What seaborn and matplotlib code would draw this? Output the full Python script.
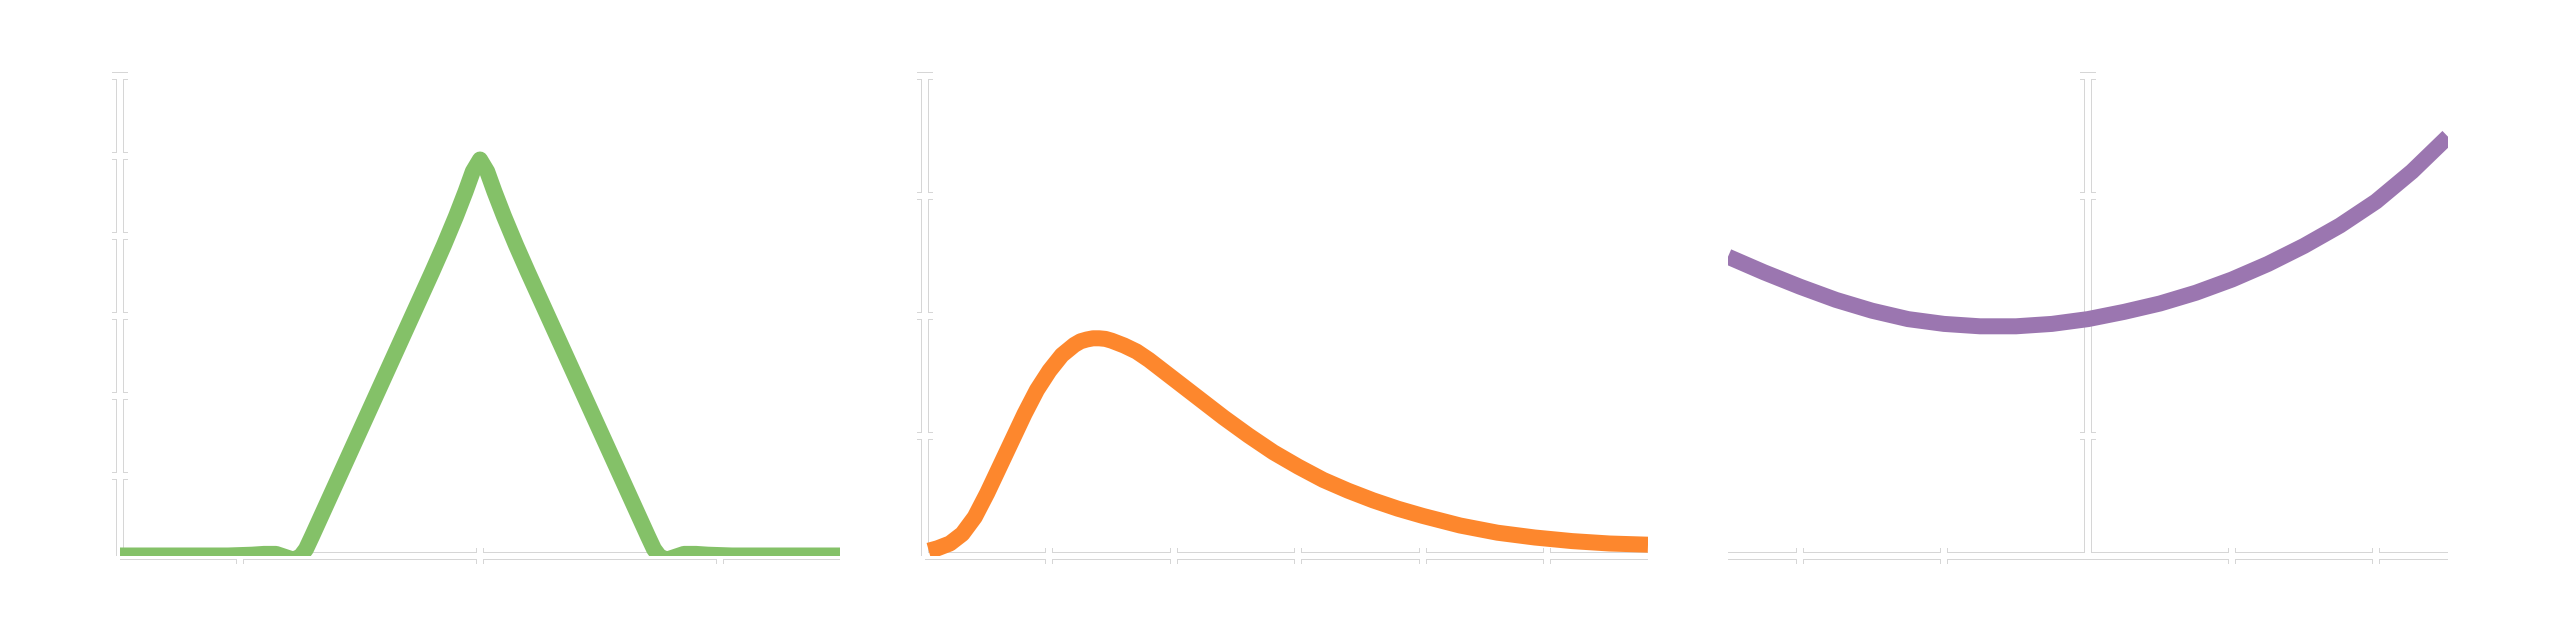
import numpy as np
import matplotlib
matplotlib.use("Agg")
import matplotlib.pyplot as plt
import seaborn as sns
import pandas as pd

sns.set_theme(style="white")

# ---------------- data ----------------
tri_x = [-3.0, -2.5, -2.1, -1.9, -1.8, -1.7, -1.62, -1.56, -1.5, -1.45, -1.4, -1.3, -1.2, -1.1,
         -1.0, -0.9, -0.8, -0.7, -0.6, -0.5, -0.4, -0.3, -0.2, -0.12, -0.06, 0.0,
         0.06, 0.12, 0.2, 0.3, 0.4, 0.5, 0.6, 0.7, 0.8, 0.9, 1.0,
         1.1, 1.2, 1.3, 1.4, 1.45, 1.5, 1.56, 1.62, 1.7, 1.8, 1.9, 2.1, 2.5, 3.0]
tri_y = [0.0, 0.0, 0.0, 0.01, 0.02, 0.02, -0.02, -0.05, -0.02, 0.08, 0.24, 0.57, 0.9, 1.23,
         1.56, 1.89, 2.22, 2.55, 2.88, 3.21, 3.54, 3.88, 4.24, 4.55, 4.8, 4.95,
         4.8, 4.55, 4.24, 3.88, 3.54, 3.21, 2.88, 2.55, 2.22, 1.89, 1.56,
         1.23, 0.9, 0.57, 0.24, 0.08, -0.02, -0.05, -0.02, 0.02, 0.02, 0.01, 0.0, 0.0, 0.0]

skew_x = [0.03, 0.1, 0.2, 0.3, 0.4, 0.5, 0.6, 0.7, 0.8, 0.9, 1.0, 1.1, 1.2, 1.25, 1.3, 1.35,
          1.4, 1.45, 1.5, 1.6, 1.7, 1.8, 1.9, 2.0, 2.2, 2.4, 2.6, 2.8, 3.0, 3.2, 3.4, 3.6,
          3.8, 4.0, 4.3, 4.6, 4.9, 5.2, 5.5, 5.81]
skew_y = [0.04, 0.06, 0.1, 0.18, 0.32, 0.52, 0.74, 0.96, 1.18, 1.38, 1.54, 1.67, 1.755, 1.785,
          1.80, 1.81, 1.81, 1.805, 1.79, 1.75, 1.7, 1.63, 1.55, 1.47, 1.31, 1.15, 1.0, 0.86,
          0.74, 0.63, 0.54, 0.46, 0.39, 0.33, 0.25, 0.19, 0.15, 0.12, 0.1, 0.09]

curve_x = [-2.5, -2.25, -2.0, -1.75, -1.5, -1.25, -1.0, -0.75, -0.5, -0.25, 0.0, 0.25, 0.5,
           0.75, 1.0, 1.25, 1.5, 1.75, 2.0, 2.25, 2.5]
curve_y = [2.49, 2.36, 2.24, 2.13, 2.04, 1.97, 1.93, 1.91, 1.91, 1.93, 1.97, 2.03, 2.1,
           2.19, 2.3, 2.43, 2.58, 2.75, 2.95, 3.2, 3.49]

GREEN = "#84c168"
ORANGE = "#fd872d"
PURPLE = "#9b76b0"
GREY = "#d6d6d6"

DPI = 100
W, H = 2560, 640
fig = plt.figure(figsize=(W / DPI, H / DPI), dpi=DPI)
fig.patch.set_facecolor("white")


def pt(p):
    return p * 72.0 / DPI


panels = [
    dict(x0=120, x1=840, x=tri_x, y=tri_y, color=GREEN, xlim=(-3, 3), ylim=(0, 6),
         xticks=[-2, 0, 2], yticks=[1, 2, 3, 4, 5, 6], spine_at=None),
    dict(x0=925, x1=1648, x=skew_x, y=skew_y, color=ORANGE, xlim=(0, 5.81), ylim=(0, 4),
         xticks=[1, 2, 3, 4, 5], yticks=[1, 2, 3, 4], spine_at=None),
    dict(x0=1728, x1=2448, x=curve_x, y=curve_y, color=PURPLE, xlim=(-2.5, 2.5), ylim=(0, 4),
         xticks=[-2, -1, 1, 2], yticks=[1, 2, 3, 4], spine_at=0),
]

y_top, y_bot = 75.5, 555.5
for p in panels:
    rect = [p["x0"] / W, (H - y_bot) / H, (p["x1"] - p["x0"]) / W, (y_bot - y_top) / H]
    for layer, (col, lw) in enumerate([(GREY, 8), ("white", 6)]):
        ax = fig.add_axes(rect, label=f"{p['x0']}-{layer}")
        ax.set_facecolor("white" if layer == 0 else "none")
        ax.set_xlim(*p["xlim"])
        ax.set_ylim(*p["ylim"])
        ax.set_xticks(p["xticks"])
        ax.set_yticks(p["yticks"])
        for s in ["top", "right"]:
            ax.spines[s].set_visible(False)
        for s in ["left", "bottom"]:
            ax.spines[s].set_color(col)
            ax.spines[s].set_linewidth(pt(lw))
            ax.spines[s].set_capstyle("butt")
        if p["spine_at"] is not None:
            ax.spines["left"].set_position(("data", p["spine_at"]))
        ax.tick_params(direction="inout", length=pt(16), width=pt(lw), color=col,
                       labelleft=False, labelbottom=False, left=True, bottom=True)
        ax.grid(False)
        if layer == 1:
            df = pd.DataFrame({"x": p["x"], "y": p["y"]})
            sns.lineplot(data=df, x="x", y="y", ax=ax, color=p["color"], linewidth=pt(16),
                         sort=False, estimator=None, zorder=5, solid_capstyle="butt",
                         solid_joinstyle="round")
            ax.set_xlim(*p["xlim"])
            ax.set_ylim(*p["ylim"])
            ax.set_xlabel("")
            ax.set_ylabel("")

fig.savefig("out.png", dpi=DPI, facecolor="white")
